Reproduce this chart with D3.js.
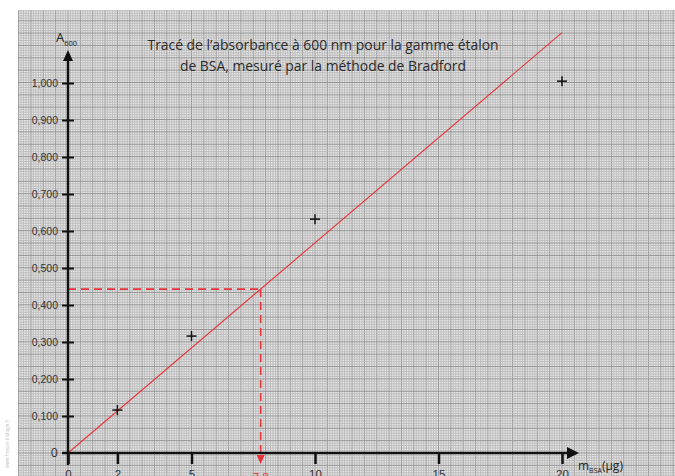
<!DOCTYPE html>
<html>
<head>
<meta charset="utf-8">
<script src="https://cdn.jsdelivr.net/npm/d3@7"></script>
<style>
  body { margin: 0; background: #fff; }
  svg { display: block; font-family: "Open Sans", "Noto Sans", sans-serif; }
  .ytick text { font-size: 10.5px; fill: #333; }
  .xtick text { font-size: 11.5px; fill: #333; }
</style>
</head>
<body>
<div id="chart"></div>
<script>
// gamme etalon BSA (µg) et absorbances lues
const masses = [2, 5, 10, 20];
const absorbances = [0.116, 0.316, 0.632, 1.005];
const xTickValues = [0, 2, 5, 10, 15, 20];
const yTickValues = [0.1, 0.2, 0.3, 0.4, 0.5, 0.6, 0.7, 0.8, 0.9, 1.0];
const fitSlope = 0.0568;           // droite de regression A = k.m
const fitRange = [0, 20];
const unknownMass = 7.8;
const titleLines = ["Tracé de l’absorbance à 600 nm pour la gamme étalon",
                    "de BSA, mesuré par la méthode de Bradford"];

const W = 675, H = 476;
const fr = d3.formatLocale({decimal: ",", thousands: " ", grouping: [3], currency: ["", "€"]});
const fmt = fr.format(".3f");

var x = d3.scaleLinear().domain([0, 20]).range([68, 562]);
var y = d3.scaleLinear().domain([0, 1]).range([453, 83]);

var svg = d3.select("#chart").append("svg").attr("width", W).attr("height", H);

// papier millimetre
var grid = svg.append("g");
var gx0 = 18, gy0 = 10;
grid.append("rect").attr("x", gx0).attr("y", gy0).attr("width", W - gx0).attr("height", H - gy0).attr("fill", "#e8e8e8");
var mm = (x(1) - x(0)) / 10;
var kx = d3.range(Math.ceil((gx0 - x(0)) / mm), Math.floor((W - x(0)) / mm) + 1);
var ky = d3.range(Math.ceil((y(0) - H) / mm), Math.floor((y(0) - gy0) / mm) + 1);
grid.selectAll(".vx").data(kx).join("line")
  .attr("x1", k => x(0) + k * mm).attr("x2", k => x(0) + k * mm)
  .attr("y1", gy0).attr("y2", H)
  .attr("stroke", k => k % 5 === 0 ? "#949494" : "#b6b6b6")
  .attr("stroke-width", k => k % 5 === 0 ? 1 : 0.8);
grid.selectAll(".hy").data(ky).join("line")
  .attr("y1", k => y(0) - k * mm).attr("y2", k => y(0) - k * mm)
  .attr("x1", gx0).attr("x2", W)
  .attr("stroke", k => k % 5 === 0 ? "#949494" : "#b6b6b6")
  .attr("stroke-width", k => k % 5 === 0 ? 1 : 0.8);

// filigrane
svg.append("text").attr("transform", "translate(9,468) rotate(-90)")
  .attr("font-size", 4.5).attr("fill", "#bbb").text("www.freepik-biologie.fr");

// titre
svg.append("g").selectAll("text").data(titleLines).join("text")
  .attr("x", 323).attr("y", (d, i) => 50 + i * 21)
  .attr("text-anchor", "middle").attr("font-size", 13.9).attr("fill", "#2a2a2a")
  .text(d => d);

// droite d'etalonnage
var line = d3.line().x(d => x(d)).y(d => y(fitSlope * d));
svg.append("path").datum(fitRange).attr("d", line)
  .attr("fill", "none").attr("stroke", "#e8333a").attr("stroke-width", 1.1);

// lecture graphique de l'echantillon
var aUnknown = fitSlope * unknownMass;
svg.append("line").attr("x1", x(0)).attr("x2", x(unknownMass))
  .attr("y1", y(aUnknown)).attr("y2", y(aUnknown))
  .attr("stroke", "#e8333a").attr("stroke-width", 1.6).attr("stroke-dasharray", "8,5");
svg.append("line").attr("x1", x(unknownMass)).attr("x2", x(unknownMass))
  .attr("y1", y(aUnknown)).attr("y2", y(0) + 4)
  .attr("stroke", "#e8333a").attr("stroke-width", 1.6).attr("stroke-dasharray", "8,5");

// axes
var axisY = d3.axisLeft(y).tickValues(yTickValues).tickFormat(fmt).tickSize(6).tickPadding(4);
var gy = svg.append("g").attr("class", "ytick").attr("transform", "translate(" + x(0) + ",0)").call(axisY);
gy.select(".domain").remove();
gy.selectAll(".tick line").attr("x1", -6).attr("x2", 6).attr("stroke", "#111").attr("stroke-width", 2);

var axisX = d3.axisBottom(x).tickValues(xTickValues).tickSize(11).tickPadding(6);
var gxa = svg.append("g").attr("class", "xtick").attr("transform", "translate(0," + y(0) + ")").call(axisX);
gxa.select(".domain").remove();
gxa.selectAll(".tick line").attr("stroke", "#111").attr("stroke-width", 2.5);

svg.append("line").attr("x1", x(0)).attr("x2", x(0)).attr("y1", y(0) + 12).attr("y2", 58)
  .attr("stroke", "#111").attr("stroke-width", 2.5);
svg.append("path").attr("d", d3.line()([[x(0) - 5, 61], [x(0), 50], [x(0) + 5, 61]]) + "Z").attr("fill", "#111");
svg.append("line").attr("x1", x(0) - 6).attr("x2", 570).attr("y1", y(0)).attr("y2", y(0))
  .attr("stroke", "#111").attr("stroke-width", 2.5);
svg.append("path").attr("d", d3.line()([[567, y(0) - 6], [579, y(0)], [567, y(0) + 6]]) + "Z").attr("fill", "#111");

// fleche rouge vers 7,8
svg.append("path").attr("d", d3.line()([[x(unknownMass) - 4, y(0) + 2], [x(unknownMass), y(0) + 11], [x(unknownMass) + 4, y(0) + 2]]) + "Z")
  .attr("fill", "#e8333a");
svg.append("text").attr("x", x(unknownMass)).attr("y", y(0) + 28).attr("text-anchor", "middle")
  .attr("font-size", 11.5).attr("fill", "#e8333a").text(fr.format(".1f")(unknownMass));

// zero de l'axe vertical
svg.append("text").attr("x", x(0) - 10).attr("y", y(0) + 4).attr("text-anchor", "end")
  .attr("font-size", 12.5).attr("fill", "#333").text("0");

// etiquettes des axes
var ya = svg.append("text").attr("x", 56).attr("y", 42).attr("font-size", 13).attr("fill", "#222");
ya.append("tspan").text("A");
ya.append("tspan").attr("dy", 4).attr("font-size", 7.5).text("600");
var xa = svg.append("text").attr("x", 578).attr("y", 470).attr("font-size", 12).attr("fill", "#222");
xa.append("tspan").text("m");
xa.append("tspan").attr("dy", 3).attr("font-size", 7).text("BSA");
xa.append("tspan").attr("dy", -3).text("(µg)");

// points mesures (croix)
var pts = svg.append("g").selectAll("g").data(masses.map((m, i) => [m, absorbances[i]])).join("g")
  .attr("transform", d => "translate(" + x(d[0]) + "," + y(d[1]) + ")");
pts.append("line").attr("x1", -5).attr("x2", 5).attr("stroke", "#111").attr("stroke-width", 1.5);
pts.append("line").attr("y1", -5).attr("y2", 5).attr("stroke", "#111").attr("stroke-width", 1.5);
</script>
</body>
</html>
